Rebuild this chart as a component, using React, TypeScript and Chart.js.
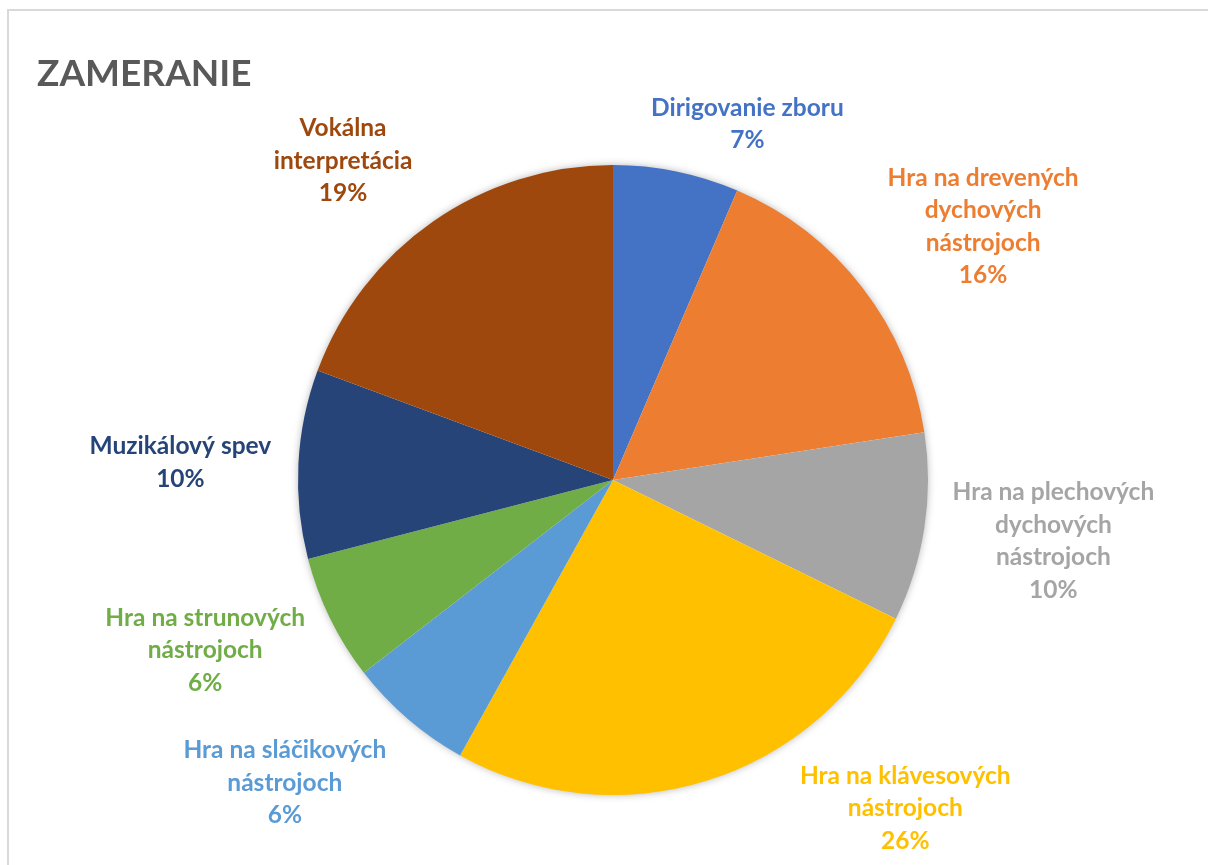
import React, { useEffect, useRef } from "react";
import { Chart, registerables } from "chart.js";

Chart.register(...registerables);

const CATEGORIES: string[][] = [
  ["Dirigovanie zboru"],
  ["Hra na drevených", "dychových", "nástrojoch"],
  ["Hra na plechových", "dychových", "nástrojoch"],
  ["Hra na klávesových", "nástrojoch"],
  ["Hra na sláčikových", "nástrojoch"],
  ["Hra na strunových", "nástrojoch"],
  ["Muzikálový spev"],
  ["Vokálna", "interpretácia"],
];
const VALUES: number[] = [2, 5, 3, 8, 2, 2, 3, 6];
const PERCENT_LABELS: string[] = ["7%", "16%", "10%", "26%", "6%", "6%", "10%", "19%"];
const COLORS: string[] = [
  "#4472C4",
  "#ED7D31",
  "#A5A5A5",
  "#FFC000",
  "#5B9BD5",
  "#70AD47",
  "#264478",
  "#9E480E",
];
const TITLE = "ZAMERANIE";

// label block centre offsets from each slice's outer mid-point (layout only)
const LABEL_OFFSETS: [number, number][] = [
  [71, -48],
  [121, -61],
  [129, 13],
  [198, 27],
  [-123, 63],
  [-125, 31],
  [-118, -2],
  [-90, -61],
];

const FONT_FAMILY = "Lato, 'Open Sans', sans-serif";
const LABEL_FONT = `bold 24.5px ${FONT_FAMILY}`;
const LINE_H = 32.5;

export default function App() {
  const ref = useRef<HTMLCanvasElement | null>(null);

  useEffect(() => {
    if (!ref.current) return;
    const shadowPlugin = {
      id: "pieShadow",
      beforeDatasetsDraw(chart: any) {
        const meta = chart.getDatasetMeta(0);
        const a = meta.data[0];
        if (!a) return;
        const ctx = chart.ctx;
        ctx.save();
        ctx.shadowColor = "rgba(0,0,0,0.35)";
        ctx.shadowBlur = 9;
        ctx.shadowOffsetX = 0;
        ctx.shadowOffsetY = 0;
        ctx.fillStyle = "#ffffff";
        ctx.beginPath();
        ctx.arc(a.x, a.y, a.outerRadius - 1, 0, Math.PI * 2);
        ctx.fill();
        ctx.restore();
      },
    };
    const labelPlugin = {
      id: "sliceLabels",
      afterDatasetsDraw(chart: any) {
        const ctx = chart.ctx;
        const meta = chart.getDatasetMeta(0);
        ctx.save();
        ctx.font = LABEL_FONT;
        ctx.textAlign = "center";
        ctx.textBaseline = "alphabetic";
        meta.data.forEach((arc: any, i: number) => {
          const mid = (arc.startAngle + arc.endAngle) / 2;
          const px = arc.x + Math.cos(mid) * arc.outerRadius;
          const py = arc.y + Math.sin(mid) * arc.outerRadius;
          const cx = px + LABEL_OFFSETS[i][0];
          const cy = py + LABEL_OFFSETS[i][1];
          const lines = [...CATEGORIES[i], PERCENT_LABELS[i]];
          const top = cy - ((lines.length - 1) * LINE_H) / 2;
          ctx.fillStyle = COLORS[i];
          lines.forEach((ln, k) => {
            ctx.fillText(ln, cx, top + k * LINE_H + 8.5);
          });
        });
        // title
        ctx.font = `bold 37px ${FONT_FAMILY}`;
        ctx.textAlign = "left";
        ctx.fillStyle = "#595959";
        ctx.fillText(TITLE, 37, 86);
        ctx.restore();
      },
    };

    const chart = new Chart(ref.current, {
      type: "pie",
      data: {
        labels: CATEGORIES,
        datasets: [
          {
            data: VALUES,
            backgroundColor: COLORS,
            borderWidth: 0,
          },
        ],
      },
      options: {
        animation: false,
        responsive: false,
        maintainAspectRatio: false,
        devicePixelRatio: 1,
        layout: { padding: { left: 298, right: 280, top: 165, bottom: 70 } },
        plugins: {
          legend: { display: false },
          tooltip: { enabled: false },
          title: { display: false },
        },
      },
      plugins: [shadowPlugin, labelPlugin],
    });
    return () => chart.destroy();
  }, []);

  return (
    <div style={{ position: "fixed", left: 0, top: 0, width: 1208, height: 865, background: "#fff", overflow: "hidden" }}>
      <div
        style={{
          position: "absolute",
          left: 7,
          top: 9,
          width: 1300,
          height: 1000,
          borderTop: "2px solid #d9d9d9",
          borderLeft: "2px solid #d9d9d9",
        }}
      />
      <canvas
        ref={ref}
        width={1208}
        height={865}
        style={{ position: "absolute", left: 0, top: 0, width: 1208, height: 865 }}
      />
    </div>
  );
}
